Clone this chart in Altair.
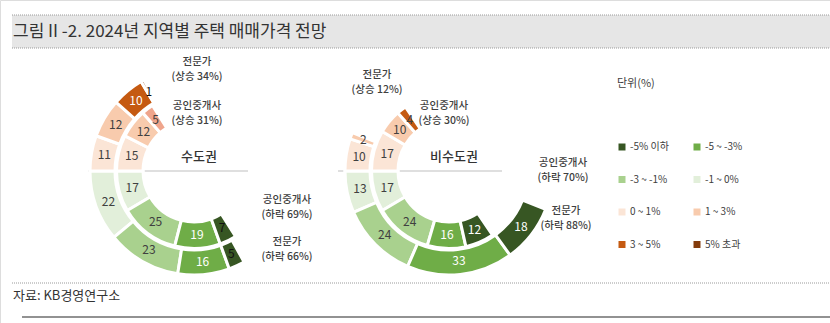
import math
import pandas as pd
import altair as alt

FONT = "Noto Sans CJK KR"
TXT = "#404040"

title_text = "그림 II -2. 2024년 지역별 주택 매매가격 전망"
source_text = "자료: KB경영연구소"

categories = ["-5% 이하", "-5 ~ -3%", "-3 ~ -1%", "-1 ~ 0%", "0 ~ 1%", "1 ~ 3%", "3 ~ 5%", "5% 초과"]
colors = ["#375623", "#6FAD47", "#A9D18E", "#E2EFDA", "#FBE5D6", "#F8CBAD", "#C55A11", "#843C0C"]
dark_categories = ["-5% 이하", "-5 ~ -3%", "3 ~ 5%", "5% 초과"]

# values in order of categories
seoul_expert = [5, 16, 23, 22, 11, 12, 10, 1]
seoul_agent = [7, 19, 25, 17, 15, 12, 5, 0]
nonseoul_expert = [18, 33, 24, 13, 10, 2, 0, 0]
nonseoul_agent = [12, 16, 24, 17, 17, 10, 4, 0]

# one segment drawn in a lighter orange in the original
alt_key = "3 ~ 5% (b)"
alt_color = "#EFA58C"

regions = ["수도권", "비수도권"]
rings = ["전문가", "공인중개사"]
series = {
    ("수도권", "전문가"): seoul_expert,
    ("수도권", "공인중개사"): seoul_agent,
    ("비수도권", "전문가"): nonseoul_expert,
    ("비수도권", "공인중개사"): nonseoul_agent,
}

annotations = [
    ("수도권", "전문가", "상승 34%"),
    ("수도권", "공인중개사", "상승 31%"),
    ("수도권", "공인중개사", "하락 69%"),
    ("수도권", "전문가", "하락 66%"),
    ("비수도권", "전문가", "상승 12%"),
    ("비수도권", "공인중개사", "상승 30%"),
    ("비수도권", "공인중개사", "하락 70%"),
    ("비수도권", "전문가", "하락 88%"),
]

# ---------- layout (pixels) ----------
center_x = {"수도권": 194, "비수도권": 449}
center_y = 171
ring_radius = {"전문가": (104, 79, 91), "공인중개사": (77.5, 51, 64)}
annot_pos = [(197, 62), (197, 106), (287, 200), (287, 242),
             (377, 75), (444, 106), (563, 163), (566, 211)]
line_span = {"수도권": (88, 248), "비수도권": (338, 502)}

rows = []
for (region, ring), vals in series.items():
    cum = 0
    for i in [3, 2, 1, 0]:
        v = vals[i]
        if v > 0:
            rows.append(dict(region=region, ring=ring, cat=categories[i], v=v, t0=-cum, t1=-(cum + v)))
        cum += v
    cum = 0
    for i in [4, 5, 6, 7]:
        v = vals[i]
        if v > 0:
            rows.append(dict(region=region, ring=ring, cat=categories[i], v=v, t0=cum, t1=cum + v))
        cum += v
df = pd.DataFrame(rows)
df["tm"] = (df["t0"] + df["t1"]) / 2
df["key"] = df["cat"]
df.loc[(df.region == "수도권") & (df.ring == "공인중개사") & (df.cat == "3 ~ 5%"), "key"] = alt_key
df["light_text"] = df["cat"].isin(dark_categories) & (df["v"] >= 10)
df["on_dark"] = df["cat"].isin(["-5% 이하", "5% 초과"]) & (df["v"] < 10)

theta_scale = alt.Scale(domain=[-100, 100], range=[math.pi / 2, 5 * math.pi / 2])
color_scale = alt.Scale(domain=categories + [alt_key], range=colors + [alt_color])
legend = alt.Legend(
    orient="none", legendX=617, legendY=78, columns=2, direction="horizontal", values=categories,
    title="단위(%)", titleFont=FONT, titleFontSize=11, titleFontWeight="normal",
    titleColor=TXT, titlePadding=53, labelFont=FONT, labelFontSize=10, labelColor=TXT,
    symbolType="square", symbolSize=49, symbolStrokeWidth=0, rowPadding=22.5,
    columnPadding=23, labelOffset=3,
)

layers = []

# title band
band = pd.DataFrame({"t": [title_text]})
layers.append(alt.Chart(band).mark_rect(color="#E6E6E6").encode(
    x=alt.value(12), x2=alt.value(830), y=alt.value(15), y2=alt.value(48)))
for yy in [15, 48, 283]:
    layers.append(alt.Chart(band).mark_rule(color="#9A9A9A", strokeDash=[1, 1], strokeWidth=1).encode(
        x=alt.value(12), x2=alt.value(830), y=alt.value(yy)))
layers.append(alt.Chart(band).mark_rule(color="#6E6E6E", strokeWidth=1.5).encode(
    x=alt.value(22), x2=alt.value(830), y=alt.value(317)))
layers.append(alt.Chart(band).mark_text(align="left", baseline="middle", font=FONT, fontSize=17,
                                        color="#333333").encode(
    x=alt.value(13), y=alt.value(32), text="t:N"))
layers.append(alt.Chart(pd.DataFrame({"t": [source_text]})).mark_text(
    align="left", baseline="middle", font=FONT, fontSize=13, color="#333333").encode(
    x=alt.value(13), y=alt.value(296), text="t:N"))

for region in regions:
    cx = center_x[region]
    x0, x1 = line_span[region]
    layers.append(alt.Chart(band).mark_rule(color="#BFBFBF", strokeWidth=1).encode(
        x=alt.value(x0), x2=alt.value(x1), y=alt.value(center_y)))
    for ring in rings:
        r_out, r_in, r_lab = ring_radius[ring]
        sub = df[(df.region == region) & (df.ring == ring)]
        layers.append(alt.Chart(sub).mark_arc(radius=r_out, radius2=r_in, stroke="white", strokeWidth=3).encode(
            x=alt.value(cx), y=alt.value(center_y),
            theta=alt.Theta("t0:Q", scale=theta_scale, stack=None),
            theta2="t1:Q",
            color=alt.Color("key:N", scale=color_scale, legend=legend),
        ))
        groups = [
            (sub[sub.light_text], "white"),
            (sub[sub.on_dark], "#111111"),
            (sub[~sub.light_text & ~sub.on_dark], TXT),
        ]
        for s2, col in groups:
            if len(s2) == 0:
                continue
            layers.append(alt.Chart(s2).mark_text(radius=r_lab, font=FONT, fontSize=12, color=col,
                                                  baseline="middle", align="center").encode(
                x=alt.value(cx), y=alt.value(center_y),
                theta=alt.Theta("tm:Q", scale=theta_scale, stack=None),
                text="v:Q",
            ))
    # region name in the hole
    layers.append(alt.Chart(pd.DataFrame({"t": [region]})).mark_text(
        font=FONT, fontSize=13, color="#333333", baseline="middle", fontWeight=500).encode(
        x=alt.value(cx + 5), y=alt.value(157), text="t:N"))

for (region, ring, note), (ax, ay) in zip(annotations, annot_pos):
    d = pd.DataFrame({"t": [ring, f"({note})"]})
    layers.append(alt.Chart(d.iloc[[0]]).mark_text(font=FONT, fontSize=10.5, color=TXT, baseline="middle",
                                                  fontWeight=500).encode(
        x=alt.value(ax), y=alt.value(ay), text="t:N"))
    layers.append(alt.Chart(d.iloc[[1]]).mark_text(font=FONT, fontSize=10.5, color=TXT, baseline="middle",
                                                  fontWeight=500).encode(
        x=alt.value(ax), y=alt.value(ay + 14.5), text="t:N"))

chart = alt.layer(*layers).properties(
    width=830, height=323, padding=0,
    autosize=alt.AutoSizeParams(type="none"),
).configure_view(stroke=None).configure(background="white")

chart.save("out.html", embed_options={"renderer": "svg", "actions": False})
